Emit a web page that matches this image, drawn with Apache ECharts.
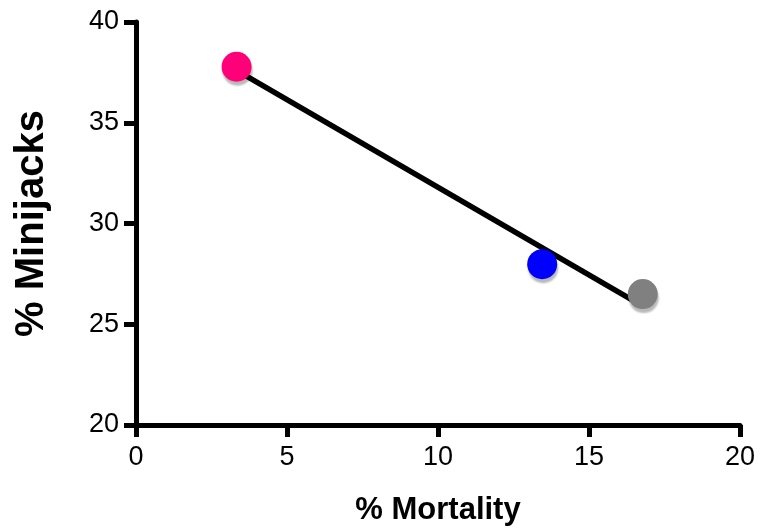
<!DOCTYPE html>
<html>
<head>
<meta charset="utf-8">
<script src="https://cdn.jsdelivr.net/npm/echarts@6/dist/echarts.min.js"></script>
<style>
html,body{margin:0;padding:0;background:#fff;}
#chart{width:760px;height:528px;}
</style>
</head>
<body>
<div id="chart"></div>
<script>
// Data
const mortality = [3.33, 13.45, 16.78];      // % Mortality (x)
const minijacks = [37.78, 27.98, 26.5];      // % Minijacks (y)
const pointColors = ['#ff0078', '#0000ff', '#808080'];
const fitX = [3.33, 16.78];                  // regression line endpoints (x)
const fitY = [37.6, 25.9];                   // regression line endpoints (y)
const xTicks = [0, 5, 10, 15, 20];
const yTicks = [20, 25, 30, 35, 40];

const font = '"Liberation Sans", Arial, Helvetica, sans-serif';
const chart = echarts.init(document.getElementById('chart'));
chart.setOption({
  backgroundColor: '#fff',
  animation: false,
  grid: {left: 136, right: 20, top: 22, bottom: 103, containLabel: false, outerBoundsMode: 'none'},
  xAxis: {
    type: 'value', min: xTicks[0], max: xTicks[xTicks.length - 1], interval: 5,
    name: '% Mortality', nameLocation: 'middle', nameGap: 70,
    nameTextStyle: {fontFamily: font, fontWeight: 'bold', fontSize: 31, color: '#000'},
    axisLine: {show: true, lineStyle: {color: '#000', width: 5}},
    axisTick: {show: true, length: 12, lineStyle: {color: '#000', width: 5}},
    axisLabel: {fontFamily: font, fontSize: 27, color: '#000', margin: 19},
    splitLine: {show: false}
  },
  yAxis: {
    type: 'value', min: yTicks[0], max: yTicks[yTicks.length - 1], interval: 5,
    name: '% Minijacks', nameLocation: 'middle', nameGap: 84,
    nameTextStyle: {fontFamily: font, fontWeight: 'bold', fontSize: 40, color: '#000'},
    axisLine: {show: true, lineStyle: {color: '#000', width: 5}},
    axisTick: {show: true, length: 12, lineStyle: {color: '#000', width: 5}},
    axisLabel: {fontFamily: font, fontSize: 27, color: '#000', margin: 17},
    splitLine: {show: false}
  },
  series: [
    {
      type: 'line', z: 1,
      data: fitX.map((x, i) => [x, fitY[i]]),
      symbol: 'none',
      lineStyle: {color: '#000', width: 5.5},
      silent: true
    },
    {
      type: 'scatter', z: 2,
      symbolSize: 30,
      data: mortality.map((x, i) => ({
        value: [x, minijacks[i]],
        itemStyle: {color: pointColors[i]}
      })),
      itemStyle: {shadowColor: 'rgba(0,0,0,0.28)', shadowBlur: 2, shadowOffsetX: 1, shadowOffsetY: 4, opacity: 1}
    }
  ]
});
</script>
</body>
</html>
